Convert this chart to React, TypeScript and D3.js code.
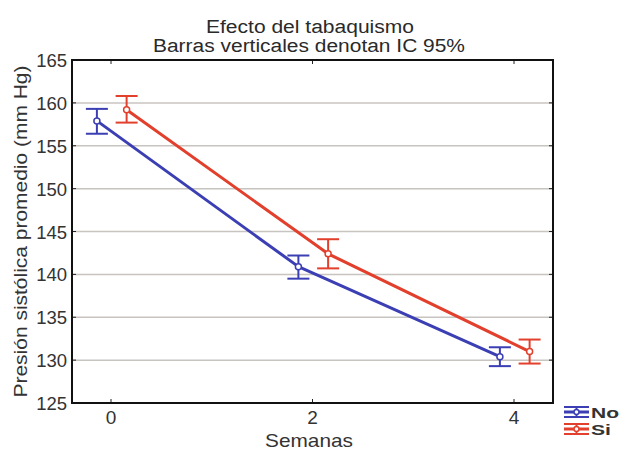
import React from "react";
import * as d3 from "d3";

const weeks = [0, 2, 4];
const xTicks = ["0", "2", "4"];
const yTicks = [125, 130, 135, 140, 145, 150, 155, 160, 165];
const noMean = [157.9, 140.9, 130.4];
const noLow = [156.4, 139.5, 129.3];
const noHigh = [159.3, 142.2, 131.5];
const siMean = [159.2, 142.4, 131.0];
const siLow = [157.7, 140.7, 129.6];
const siHigh = [160.8, 144.1, 132.4];

const W = 621, H = 452;
const L = 72, R = 553, T = 60, B = 403;
const FONT = "Liberation Sans, Arial, sans-serif";

export default function App() {
  const x = d3.scaleLinear().domain([0, 4]).range([111, 514]);
  const y = d3.scaleLinear().domain([125, 165]).range([B, T]);
  const series = [
    { name: "No", color: "#3b3fb3", mean: noMean, lo: noLow, hi: noHigh, off: -0.14 },
    { name: "Si", color: "#e2402c", mean: siMean, lo: siLow, hi: siHigh, off: 0.155 },
  ];
  const line = d3.line<[number, number]>().x(d => d[0]).y(d => d[1]).curve(d3.curveLinear);
  return (
    <svg width={W} height={H} style={{ position: "absolute", left: 0, top: 0, background: "#fff" }}>
      <rect x={0} y={0} width={W} height={H} fill="#fff" />
      <text x={310} y={33} textAnchor="middle" fontFamily={FONT} fontSize={18} fill="#2a2a2a" textLength={208} lengthAdjust="spacingAndGlyphs">Efecto del tabaquismo</text>
      <text x={309} y={52} textAnchor="middle" fontFamily={FONT} fontSize={18} fill="#2a2a2a" textLength={312} lengthAdjust="spacingAndGlyphs">Barras verticales denotan IC 95%</text>
      {yTicks.slice(1, -1).map(t => (
        <line key={"g" + t} x1={L} x2={R} y1={y(t)} y2={y(t)} stroke="#c8c4c0" strokeWidth={1.5} />
      ))}
      {yTicks.map(t => (
        <g key={"y" + t}>
          <line x1={L} x2={L + 4} y1={y(t)} y2={y(t)} stroke="#222" />
          <line x1={R - 4} x2={R} y1={y(t)} y2={y(t)} stroke="#222" />
          <text x={67} y={y(t) + 7} textAnchor="end" fontFamily={FONT} fontSize={18.5} fill="#333">{t}</text>
        </g>
      ))}
      {weeks.map((w, i) => (
        <g key={"x" + w}>
          <line x1={x(w)} x2={x(w)} y1={B} y2={B - 4} stroke="#222" />
          <line x1={x(w)} x2={x(w)} y1={T} y2={T + 4} stroke="#222" />
          <text x={x(w)} y={424} textAnchor="middle" fontFamily={FONT} fontSize={19} fill="#333">{xTicks[i]}</text>
        </g>
      ))}
      <text x={309} y={447} textAnchor="middle" fontFamily={FONT} fontSize={19} fill="#333" textLength={88} lengthAdjust="spacingAndGlyphs">Semanas</text>
      <text transform={`translate(27,${(T + B) / 2}) rotate(-90)`} textAnchor="middle" fontFamily={FONT} fontSize={18} fill="#333" textLength={332} lengthAdjust="spacingAndGlyphs">Presión sistólica promedio (mm Hg)</text>
      {series.map(s => {
        const pts: [number, number][] = weeks.map((w, i) => [x(w + s.off), y(s.mean[i])]);
        return (
          <g key={s.name}>
            <path d={line(pts) || ""} fill="none" stroke={s.color} strokeWidth={3} strokeLinejoin="round" />
            {weeks.map((w, i) => {
              const cx = x(w + s.off);
              return (
                <g key={w} stroke={s.color} strokeWidth={2} fill="none">
                  <line x1={cx} x2={cx} y1={y(s.lo[i])} y2={y(s.hi[i])} />
                  <line x1={cx - 11} x2={cx + 11} y1={y(s.lo[i])} y2={y(s.lo[i])} />
                  <line x1={cx - 11} x2={cx + 11} y1={y(s.hi[i])} y2={y(s.hi[i])} />
                  <circle cx={cx} cy={y(s.mean[i])} r={3} fill="#fff" strokeWidth={1.5} />
                </g>
              );
            })}
          </g>
        );
      })}
      <rect x={L} y={T} width={R - L} height={B - T} fill="none" stroke="#111" strokeWidth={2} />
      {series.map((s, k) => {
        const cy = 412 + k * 17;
        return (
          <g key={"lg" + s.name}>
            <g stroke={s.color} strokeWidth={2} fill="none">
              <line x1={564} x2={589} y1={cy - 5} y2={cy - 5} />
              <line x1={564} x2={589} y1={cy + 5} y2={cy + 5} />
              <line x1={576.5} x2={576.5} y1={cy - 5} y2={cy + 5} />
              <line x1={564} x2={589} y1={cy} y2={cy} strokeWidth={3} />
              <circle cx={576.5} cy={cy} r={2.5} fill="#fff" strokeWidth={1.5} />
            </g>
            <text x={591} y={cy + 5.5} fontFamily={FONT} fontSize={14.5} fontWeight={600} fill="#333" textLength={k === 0 ? 28 : 20} lengthAdjust="spacingAndGlyphs">{s.name}</text>
          </g>
        );
      })}
    </svg>
  );
}
